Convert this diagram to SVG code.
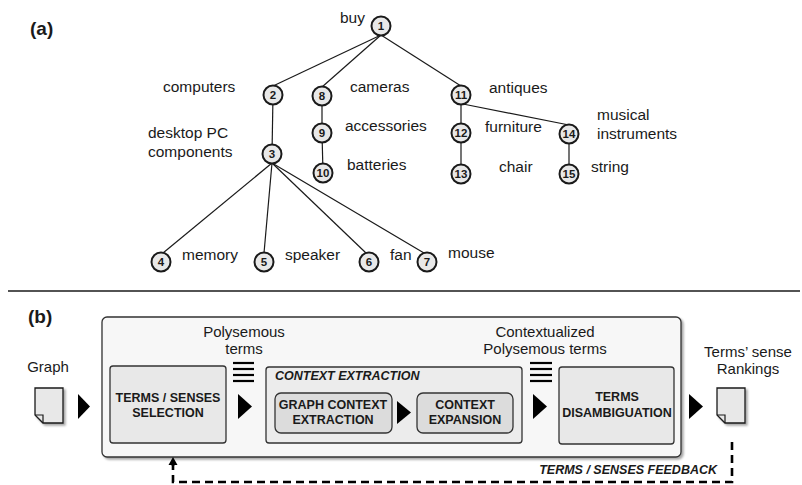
<svg xmlns="http://www.w3.org/2000/svg" width="802" height="485" viewBox="0 0 802 485">
<defs>
<style>
.lbl{font-family:"Liberation Sans",Arial,sans-serif;font-size:15.5px;fill:#1a1a1a}
.num{font-family:"Liberation Sans",Arial,sans-serif;font-size:11.5px;font-weight:bold;fill:#1a1a1a;text-anchor:middle}
.node{fill:#e8e8e8;stroke:#1a1a1a;stroke-width:2}
.edge{stroke:#1a1a1a;stroke-width:1.2;fill:none}
.title{font-family:"Liberation Sans",Arial,sans-serif;font-size:19px;font-weight:bold;fill:#1a1a1a}
.box{font-family:"Liberation Sans",Arial,sans-serif;font-size:12.5px;font-weight:bold;fill:#1a1a1a;text-anchor:middle}
.cap{font-family:"Liberation Sans",Arial,sans-serif;font-size:15px;fill:#1a1a1a;text-anchor:middle}
.ital{font-family:"Liberation Sans",Arial,sans-serif;font-size:12.5px;font-weight:bold;font-style:italic;fill:#1a1a1a}
.tri{fill:#000}
.bar{stroke:#000;stroke-width:2.2}
</style>
<filter id="sh" x="-10%" y="-10%" width="130%" height="130%">
<feDropShadow dx="2" dy="2" stdDeviation="1.2" flood-color="#000" flood-opacity="0.35"/>
</filter>
</defs>
<rect x="0" y="0" width="802" height="485" fill="#fff"/>

<text class="title" x="30" y="35">(a)</text>

<g id="connectors">
<line class="edge" x1="381" y1="35" x2="273" y2="86"/>
<line class="edge" x1="381" y1="35" x2="322" y2="87"/>
<line class="edge" x1="381" y1="35" x2="461" y2="86"/>
<line class="edge" x1="273" y1="95" x2="272" y2="154"/>
<line class="edge" x1="322" y1="96" x2="322" y2="133"/>
<line class="edge" x1="322" y1="133" x2="323" y2="173"/>
<line class="edge" x1="461" y1="95" x2="461" y2="133"/>
<line class="edge" x1="461" y1="133" x2="461" y2="174"/>
<line class="edge" x1="463" y1="104" x2="569" y2="125"/>
<line class="edge" x1="569" y1="134" x2="569" y2="174"/>
<line class="edge" x1="272" y1="163" x2="163" y2="253"/>
<line class="edge" x1="272" y1="163" x2="264" y2="253"/>
<line class="edge" x1="272" y1="163" x2="366" y2="253"/>
<line class="edge" x1="272" y1="163" x2="424" y2="253"/>
</g>

<g id="n1"><circle class="node" cx="381" cy="26" r="9.5"/><text class="num" x="381" y="30">1</text><text class="lbl" x="340" y="23">buy</text></g>
<g id="n2"><circle class="node" cx="273" cy="95" r="9.5"/><text class="num" x="273" y="99">2</text><text class="lbl" x="163" y="92">computers</text></g>
<g id="n3"><circle class="node" cx="272" cy="154" r="9.5"/><text class="num" x="272" y="158">3</text><text class="lbl" x="148" y="138">desktop PC</text><text class="lbl" x="148" y="157">components</text></g>
<g id="n4"><circle class="node" cx="161" cy="262" r="9.5"/><text class="num" x="161" y="266">4</text><text class="lbl" x="182" y="260">memory</text></g>
<g id="n5"><circle class="node" cx="264" cy="262" r="9.5"/><text class="num" x="264" y="266">5</text><text class="lbl" x="285" y="260">speaker</text></g>
<g id="n6"><circle class="node" cx="369" cy="262" r="9.5"/><text class="num" x="369" y="266">6</text><text class="lbl" x="390" y="260">fan</text></g>
<g id="n7"><circle class="node" cx="427" cy="262" r="9.5"/><text class="num" x="427" y="266">7</text><text class="lbl" x="448" y="258">mouse</text></g>
<g id="n8"><circle class="node" cx="322" cy="96" r="9.5"/><text class="num" x="322" y="100">8</text><text class="lbl" x="350" y="92">cameras</text></g>
<g id="n9"><circle class="node" cx="322" cy="133" r="9.5"/><text class="num" x="322" y="137">9</text><text class="lbl" x="345" y="131">accessories</text></g>
<g id="n10"><circle class="node" cx="323" cy="173" r="9.5"/><text class="num" x="323" y="177">10</text><text class="lbl" x="347" y="170">batteries</text></g>
<g id="n11"><circle class="node" cx="461" cy="95" r="9.5"/><text class="num" x="461" y="99">11</text><text class="lbl" x="489" y="93">antiques</text></g>
<g id="n12"><circle class="node" cx="461" cy="133" r="9.5"/><text class="num" x="461" y="137">12</text><text class="lbl" x="485" y="132">furniture</text></g>
<g id="n13"><circle class="node" cx="461" cy="174" r="9.5"/><text class="num" x="461" y="178">13</text><text class="lbl" x="499" y="172">chair</text></g>
<g id="n14"><circle class="node" cx="569" cy="134" r="9.5"/><text class="num" x="569" y="138">14</text><text class="lbl" x="597" y="120">musical</text><text class="lbl" x="597" y="139">instruments</text></g>
<g id="n15"><circle class="node" cx="569" cy="174" r="9.5"/><text class="num" x="569" y="178">15</text><text class="lbl" x="591" y="172">string</text></g>

<line x1="8" y1="291" x2="800" y2="291" stroke="#1a1a1a" stroke-width="1.5"/>

<text class="title" x="28" y="323">(b)</text>

<g id="pipeline">
<rect x="102" y="317" width="579" height="140" rx="5" fill="#f7f7f7" stroke="#333" stroke-width="1.3" filter="url(#sh)"/>
<text class="cap" x="244" y="337">Polysemous</text>
<text class="cap" x="244" y="354">terms</text>
<text class="cap" x="545" y="337">Contextualized</text>
<text class="cap" x="545" y="354">Polysemous terms</text>
</g>

<g id="graph-doc">
<text class="cap" x="48" y="372">Graph</text>
<path d="M35,388 H63 V423 H43 L35,415 Z" fill="#e8e8e8" stroke="#1a1a1a" stroke-width="1.3" filter="url(#sh)"/>
<path d="M35,415 H43 V423" fill="none" stroke="#1a1a1a" stroke-width="1.2"/>
</g>

<g id="selection">
<rect x="110" y="366" width="116" height="77" rx="3" fill="#e8e8e8" stroke="#333" stroke-width="1.3"/>
<text class="box" x="168" y="402">TERMS / SENSES</text>
<text class="box" x="168" y="417">SELECTION</text>
</g>

<g id="context-extraction">
<rect x="266" y="367" width="256" height="76" rx="3" fill="#ececec" stroke="#333" stroke-width="1.3"/>
<text class="ital" x="275" y="380">CONTEXT EXTRACTION</text>
</g>

<g id="graph-context">
<rect x="275" y="393" width="117" height="40" rx="6" fill="#dcdcdc" stroke="#333" stroke-width="1.3"/>
<text class="box" x="333" y="409">GRAPH CONTEXT</text>
<text class="box" x="333" y="424">EXTRACTION</text>
</g>

<g id="context-expansion">
<rect x="417" y="393" width="96" height="40" rx="6" fill="#dcdcdc" stroke="#333" stroke-width="1.3"/>
<text class="box" x="465" y="409">CONTEXT</text>
<text class="box" x="465" y="424">EXPANSION</text>
</g>

<g id="disambiguation">
<rect x="559" y="367" width="115" height="77" rx="3" fill="#e8e8e8" stroke="#333" stroke-width="1.3"/>
<text class="box" x="617" y="401">TERMS</text>
<text class="box" x="617" y="417">DISAMBIGUATION</text>
</g>

<g id="rank-doc">
<text class="cap" x="748" y="357">Terms’ sense</text>
<text class="cap" x="748" y="374">Rankings</text>
<path d="M717,388 H745 V423 H725 L717,415 Z" fill="#e8e8e8" stroke="#1a1a1a" stroke-width="1.3" filter="url(#sh)"/>
<path d="M717,415 H725 V423" fill="none" stroke="#1a1a1a" stroke-width="1.2"/>
</g>

<g id="flow">
<path class="tri" d="M78,394 L90,406.5 L78,419 Z"/>
<path class="tri" d="M238,394 L252,406.5 L238,419 Z"/>
<path class="tri" d="M397,401 L411,412.5 L397,424 Z"/>
<path class="tri" d="M533,394 L547,406.5 L533,419 Z"/>
<path class="tri" d="M689,394 L703,406.5 L689,419 Z"/>
<line class="bar" x1="233" y1="363" x2="254" y2="363"/>
<line class="bar" x1="233" y1="369" x2="254" y2="369"/>
<line class="bar" x1="233" y1="375" x2="254" y2="375"/>
<line class="bar" x1="233" y1="381" x2="254" y2="381"/>
<line class="bar" x1="530" y1="363" x2="552" y2="363"/>
<line class="bar" x1="530" y1="369" x2="552" y2="369"/>
<line class="bar" x1="530" y1="375" x2="552" y2="375"/>
<line class="bar" x1="530" y1="381" x2="552" y2="381"/>
<path d="M732,442 V482 H173 V465" fill="none" stroke="#000" stroke-width="2.6" stroke-dasharray="8,5"/>
<path d="M173,466 V462" fill="none" stroke="#000" stroke-width="2.6"/>
<path d="M168.5,465 L173,457 L177.5,465 Z" fill="#000"/>
<text class="ital" x="717" y="474" text-anchor="end">TERMS / SENSES FEEDBACK</text>
</g>
</svg>
